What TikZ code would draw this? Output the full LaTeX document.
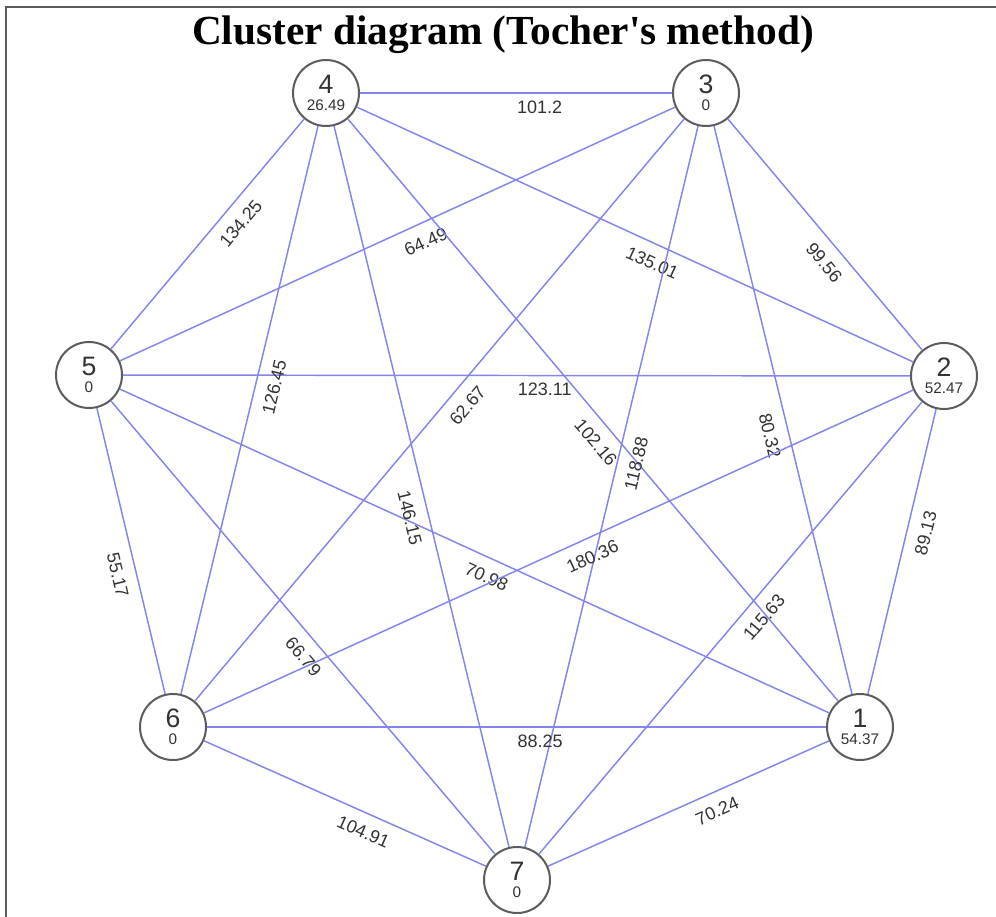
\documentclass[tikz,border=0pt]{standalone}
\usepackage{fontspec}
\setmainfont{Liberation Sans}
\newfontfamily\titlefont{Liberation Serif}[Ligatures=TeXOff]
\usepackage{xcolor}
\definecolor{edgeblue}{RGB}{132,132,236}
\definecolor{rimgray}{RGB}{92,92,92}
\definecolor{txtgray}{RGB}{50,50,50}
\newcommand{\vtxlabel}[2]{\vbox{\offinterlineskip\halign{\hfil##\hfil\cr
    \fontsize{20}{20}\selectfont #1\cr\noalign{\kern 4.5pt}
    \fontsize{11.5}{11.5}\selectfont #2\cr}}}

\begin{document}
\begin{tikzpicture}[x=0.75pt, y=-0.75pt,
        vtx/.style={draw=rimgray, line width=1.5pt, circle, minimum size=49.5pt, inner sep=0pt, text=txtgray},
        link/.style={draw=edgeblue, line width=1.1pt},
        wtbase/.style={sloped, inner sep=0pt, font=\fontsize{13.5}{13.5}\selectfont, text=txtgray},
        wt/.style={wtbase, below=8.7pt},
        wth/.style={wtbase, below=5.3pt}]
            \useasboundingbox (0,0) rectangle (996,917);
            \draw[rimgray, line width=1.5pt] (6,917) -- (6,7) -- (996,7);
            \node[font=\titlefont\fontsize{31}{31}\selectfont\bfseries, anchor=base] (title) at (503,45) {Cluster diagram (Tocher's method)};

            \node[vtx] (n1) at (860,727) {\vtxlabel{1}{54.37}};
            \node[vtx] (n2) at (944,376) {\vtxlabel{2}{52.47}};
            \node[vtx] (n3) at (706,93) {\vtxlabel{3}{0}};
            \node[vtx] (n4) at (326,93) {\vtxlabel{4}{26.49}};
            \node[vtx] (n5) at (89,375) {\vtxlabel{5}{0}};
            \node[vtx] (n6) at (173,727) {\vtxlabel{6}{0}};
            \node[vtx] (n7) at (517,880) {\vtxlabel{7}{0}};

            \draw[link] (n4) -- node[wth, pos=0.576] {101.2} (n3);
            \draw[link] (n5) -- node[wt, pos=0.598] {134.25} (n4);
            \draw[link] (n5) -- node[wt, pos=0.537] {64.49} (n3);
            \draw[link] (n4) -- node[wt, pos=0.545] {135.01} (n2);
            \draw[link] (n3) -- node[wt, pos=0.569] {99.56} (n2);
            \draw[link] (n5) -- node[wth, pos=0.536] {123.11} (n2);
            \draw[link] (n6) -- node[wt, pos=0.548] {126.45} (n4);
            \draw[link] (n6) -- node[wt, pos=0.528] {62.67} (n3);
            \draw[link] (n4) -- node[wt, pos=0.535] {102.16} (n1);
            \draw[link] (n7) -- node[wt, pos=0.538] {118.88} (n3);
            \draw[link] (n3) -- node[wt, pos=0.537] {80.32} (n1);
            \draw[link] (n1) -- node[wt, pos=0.580] {89.13} (n2);
            \draw[link] (n5) -- node[wt, pos=0.570] {55.17} (n6);
            \draw[link] (n5) -- node[wt, pos=0.528] {70.98} (n1);
            \draw[link] (n4) -- node[wt, pos=0.537] {146.15} (n7);
            \draw[link] (n6) -- node[wt, pos=0.537] {180.36} (n2);
            \draw[link] (n5) -- node[wt, pos=0.538] {66.79} (n7);
            \draw[link] (n7) -- node[wt, pos=0.550] {115.63} (n2);
            \draw[link] (n6) -- node[wth, pos=0.538] {88.25} (n1);
            \draw[link] (n6) -- node[wt, pos=0.592] {104.91} (n7);
            \draw[link] (n7) -- node[wt, pos=0.575] {70.24} (n1);
\end{tikzpicture}
\end{document}
